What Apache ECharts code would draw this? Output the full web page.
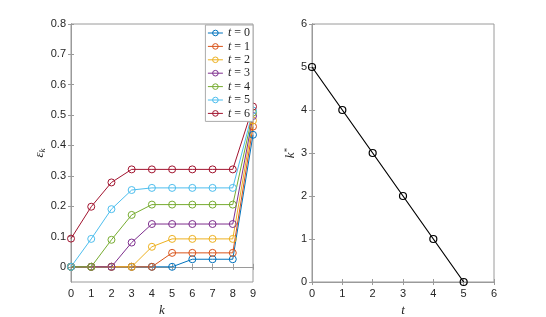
<!DOCTYPE html>
<html><head><meta charset="utf-8">
<script src="https://cdn.jsdelivr.net/npm/echarts@6/dist/echarts.min.js"></script>
<style>html,body{margin:0;padding:0;background:#fff}#c{width:546px;height:317px}</style>
</head><body><div id="c"></div>
<script>
const kValues = [0,1,2,3,4,5,6,7,8,9];
const eps0 = [0,0,0,0,0,0,0.025,0.025,0.025,0.435];
const eps1 = [0,0,0,0,0,0.046,0.046,0.046,0.046,0.462];
const eps2 = [0,0,0,0,0.066,0.092,0.092,0.092,0.092,0.482];
const eps3 = [0,0,0,0.08,0.141,0.141,0.141,0.141,0.141,0.497];
const eps4 = [0,0,0.089,0.171,0.205,0.205,0.205,0.205,0.205,0.508];
const eps5 = [0,0.092,0.19,0.253,0.26,0.26,0.26,0.26,0.26,0.515];
const eps6 = [0.093,0.198,0.278,0.321,0.321,0.321,0.321,0.321,0.321,0.528];
const epsSeries = [eps0, eps1, eps2, eps3, eps4, eps5, eps6];
const seriesNames = ['t = 0','t = 1','t = 2','t = 3','t = 4','t = 5','t = 6'];
const tValues = [0,1,2,3,4,5];
const kStar = [5,4,3,2,1,0];
const leftYTicks = [0,0.1,0.2,0.3,0.4,0.5,0.6,0.7,0.8];
const colors = ['#0072BD','#D95319','#EDB120','#7E2F8E','#77AC30','#4DBEEE','#A2142F'];

const axisCol = '#9a9a9a';
const txtCol = '#262626';
const sans = 'Liberation Sans, Arial, sans-serif';
const serif = 'Liberation Serif, DejaVu Serif, serif';
const lblY = {color: txtCol, fontSize: 11, fontFamily: sans, margin: 5};
const lblX = {color: txtCol, fontSize: 11, fontFamily: sans, margin: 6};
const tick = {show: true, inside: true, length: 3, lineStyle: {color: axisCol}};
const line = {show: true, lineStyle: {color: axisCol, width: 1}};

const chart = echarts.init(document.getElementById('c'), null, {renderer: 'canvas'});

const series = epsSeries.map((arr, i) => ({
  type: 'line', name: seriesNames[i], xAxisIndex: 0, yAxisIndex: 0,
  data: kValues.map((k, j) => [k, arr[j]]),
  symbol: 'circle', symbolSize: 7, showAllSymbol: true,
  lineStyle: {color: colors[i], width: 1},
  itemStyle: {color: 'rgba(255,255,255,0)', borderColor: colors[i], borderWidth: 1},
  emphasis: {disabled: true}
}));
series.push({
  type: 'line', name: 'kstar', xAxisIndex: 2, yAxisIndex: 2,
  data: tValues.map((t, j) => [t, kStar[j]]),
  symbol: 'circle', symbolSize: 7,
  lineStyle: {color: '#000', width: 1.2},
  itemStyle: {color: 'rgba(255,255,255,0)', borderColor: '#000', borderWidth: 1.2},
  emphasis: {disabled: true}
});

chart.setOption({
  animation: false,
  backgroundColor: '#fff',
  grid: [
    {left: 71, top: 24, width: 182, height: 258, show: true, borderColor: axisCol, borderWidth: 1, outerBoundsMode: 'none', containLabel: false},
    {left: 312, top: 24, width: 182, height: 258, show: true, borderColor: axisCol, borderWidth: 1, outerBoundsMode: 'none', containLabel: false}
  ],
  legend: {
    data: seriesNames,
    orient: 'vertical', right: 293, top: 25,
    backgroundColor: '#fff', borderColor: '#aaa', borderWidth: 1,
    padding: [2, 3, 2, 2], itemGap: 1.4, itemWidth: 15, itemHeight: 7,
    itemStyle: {borderWidth: 1},
    lineStyle: {width: 1},
    textStyle: {fontFamily: serif, fontSize: 12, color: txtCol, lineHeight: 12,
      rich: {i: {fontFamily: serif, fontStyle: 'italic', fontSize: 12, color: txtCol}}},
    formatter: n => '{i|t} = ' + n.split('= ')[1]
  },
  xAxis: [
    {type: 'value', gridIndex: 0, min: 0, max: 9, interval: 1, position: 'bottom',
     axisLine: line, axisTick: tick, axisLabel: lblX, splitLine: {show: false},
     name: '{i|k}', nameLocation: 'middle', nameGap: 19,
     nameTextStyle: {rich: {i: {fontFamily: serif, fontStyle: 'italic', fontSize: 13, color: txtCol}}}},
    {type: 'value', gridIndex: 0, min: 0, max: 9, interval: 1, position: 'top',
     axisLine: line, axisTick: tick, axisLabel: {show: false}, splitLine: {show: false}},
    {type: 'value', gridIndex: 1, min: 0, max: 6, interval: 1, position: 'bottom',
     axisLine: line, axisTick: tick, axisLabel: lblX, splitLine: {show: false},
     name: '{i|t}', nameLocation: 'middle', nameGap: 19,
     nameTextStyle: {rich: {i: {fontFamily: serif, fontStyle: 'italic', fontSize: 13, color: txtCol}}}},
    {type: 'value', gridIndex: 1, min: 0, max: 6, interval: 1, position: 'top',
     axisLine: line, axisTick: tick, axisLabel: {show: false}, splitLine: {show: false}}
  ],
  yAxis: [
    {type: 'value', gridIndex: 0, min: -0.05, max: 0.8, position: 'left',
     axisLine: line,
     axisTick: Object.assign({}, tick, {customValues: leftYTicks}),
     axisLabel: Object.assign({}, lblY, {customValues: leftYTicks, formatter: v => String(+v.toFixed(1))}),
     splitLine: {show: false},
     name: '{e|ε}{s|k}', nameLocation: 'middle', nameGap: 23,
     nameTextStyle: {rich: {
       e: {fontFamily: serif, fontStyle: 'italic', fontSize: 13, color: txtCol},
       s: {fontFamily: serif, fontStyle: 'italic', fontSize: 9, color: txtCol, verticalAlign: 'bottom', padding: [5, 0, 0, 0]}
     }}},
    {type: 'value', gridIndex: 0, min: -0.05, max: 0.8, position: 'right',
     axisLine: line,
     axisTick: Object.assign({}, tick, {customValues: leftYTicks}),
     axisLabel: {show: false}, splitLine: {show: false}},
    {type: 'value', gridIndex: 1, min: 0, max: 6, interval: 1, position: 'left',
     axisLine: line, axisTick: tick, axisLabel: lblY, splitLine: {show: false},
     name: '{e|k}{s|*}', nameLocation: 'middle', nameGap: 14,
     nameTextStyle: {rich: {
       e: {fontFamily: serif, fontStyle: 'italic', fontSize: 13, color: txtCol},
       s: {fontFamily: serif, fontSize: 9, color: txtCol, verticalAlign: 'top', padding: [0, 0, 5, 0]}
     }}},
    {type: 'value', gridIndex: 1, min: 0, max: 6, interval: 1, position: 'right',
     axisLine: line, axisTick: tick, axisLabel: {show: false}, splitLine: {show: false}}
  ],
  series: series
});
</script></body></html>
